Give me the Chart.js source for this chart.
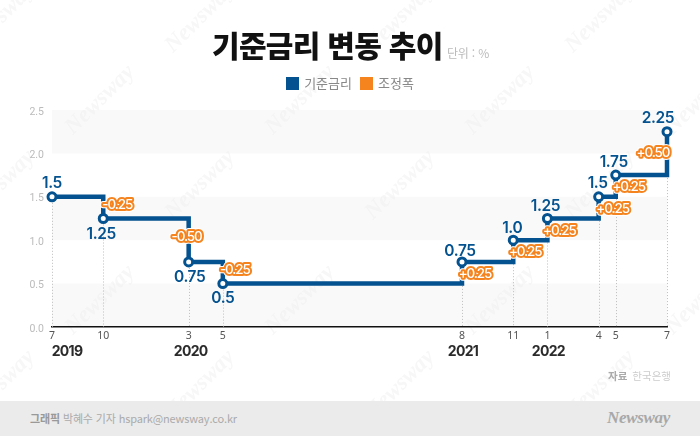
<!DOCTYPE html>
<html lang="ko">
<head>
<meta charset="utf-8">
<title>기준금리 변동 추이</title>
<script src="https://cdn.jsdelivr.net/npm/chart.js@4"></script>
<style>
  html, body { margin: 0; padding: 0; background: #fff; }
  #wrap { position: relative; width: 700px; height: 436px; overflow: hidden; font-family: "Noto Sans CJK KR", sans-serif; }
  #chart { position: absolute; left: 0; top: 0; }
  #title { position: absolute; left: 212px; top: 22px; font-size: 30px; line-height: 44px; font-weight: 900; color: #111; letter-spacing: -0.7px; white-space: nowrap; }
  #unit { position: absolute; left: 447px; top: 44px; font-size: 12px; line-height: 18px; color: #bbb; letter-spacing: -0.2px; white-space: nowrap; }
  #legend { position: absolute; left: 0; width: 700px; top: 74px; display: flex; justify-content: center; font-size: 13px; line-height: 18px; color: #888; }
  #legend span.item { display: flex; align-items: center; margin: 0 4px; }
  #legend i { width: 13px; height: 13px; margin-right: 5px; display: block; }
  #source { position: absolute; right: 29px; top: 368px; font-size: 10.5px; line-height: 16px; color: #ccc; white-space: nowrap; }
  #source b { color: #aaa; margin-right: 5px; }
  #footer { position: absolute; left: 0; top: 401px; width: 700px; height: 35px; background: #ebebeb; }
  #credit { position: absolute; left: 30px; top: 9px; font-size: 11px; line-height: 17px; color: #aaa; letter-spacing: -0.15px; white-space: nowrap; }
  #credit b { color: #999; margin-right: 3px; }
  #logo { position: absolute; right: 30px; top: 5px; font-family: "Liberation Serif", serif; font-style: italic; font-weight: 700; font-size: 17px; line-height: 24px; color: #a8a8a8; letter-spacing: -0.3px; }
</style>
</head>
<body>
<div id="wrap">
  <canvas id="chart" width="700" height="436"></canvas>
  <div id="title">기준금리 변동 추이</div>
  <div id="unit">단위 : %</div>
  <div id="legend"></div>
  <div id="source"><b>자료</b>한국은행</div>
  <div id="footer">
    <div id="credit"><b>그래픽</b>박혜수 기자 hspark@newsway.co.kr</div>
    <div id="logo">Newsway</div>
  </div>
</div>
<script>
// steps on the picture's time axis (the long flat stretch of 2020-21 is shortened there)
const timeSteps = [0, 3, 8, 10, 24, 27, 29, 32, 33, 36];
const monthLabels = ['7', '10', '3', '5', '8', '11', '1', '4', '5', '7'];
const rates = [1.5, 1.25, 0.75, 0.5, 0.75, 1.0, 1.25, 1.5, 1.75, 2.25];
const rateLabels = ['1.5', '1.25', '0.75', '0.5', '0.75', '1.0', '1.25', '1.5', '1.75', '2.25'];
const changes = [-0.25, -0.50, -0.25, 0.25, 0.25, 0.25, 0.25, 0.25, 0.50];
const yearLabels = ['2019', '2020', '2021', '2022'];
const yearSteps = [0, 8, 24, 29];
const bands = [[0, 0.5], [1, 1.5], [2, 2.5]];
const seriesNames = ['기준금리', '조정폭'];

const BLUE = '#04528f';
const ORANGE = '#f5841f';

// label nudges in px, relative to the point they belong to
const rateNudge = [[0, -13], [-2, 16], [1, 15], [0, 15], [-2, -11], [-1, -12], [-2, -12], [-1, -13], [-2, -13], [-9, -13]];
const changeNudge = [[14, -3], [-2, -3], [12, -3], [13, 1], [12, 1], [12, 2], [14, 1], [13, 1], [-14, 0]];
const yearNudge = [15, 2, 1, 1];

document.getElementById('legend').innerHTML = seriesNames.map((name, i) =>
  `<span class="item"><i style="background:${i ? ORANGE : BLUE}"></i>${name}</span>`).join('');

const backdrop = {
  id: 'backdrop',
  beforeDraw(chart) {
    const { ctx } = chart;
    const { x, y } = chart.scales;
    ctx.save();
    // watermark
    ctx.fillStyle = '#f7f7f7';
    ctx.font = 'italic bold 23px "Liberation Serif"';
    ctx.textAlign = 'center';
    ctx.textBaseline = 'middle';
    [[18, 0, 200, 400, 600], [100, 100, 300, 500, 700], [185, 0, 200, 400, 600], [300, 100, 300, 500, 700], [385, 0, 200, 400, 600]].forEach(([cy, ...xs]) => {
      xs.forEach(cx => {
        ctx.save();
        ctx.translate(cx, cy);
        ctx.rotate(-Math.PI / 4);
        ctx.fillText('Newsway', 0, 0);
        ctx.restore();
      });
    });
    // shaded bands
    ctx.fillStyle = 'rgba(240,240,240,0.38)';
    bands.forEach(([lo, hi]) => {
      ctx.fillRect(x.left, y.getPixelForValue(hi), x.width, y.getPixelForValue(lo) - y.getPixelForValue(hi));
    });
    ctx.restore();
  },
  beforeDatasetsDraw(chart) {
    const { ctx } = chart;
    const { x, y } = chart.scales;
    ctx.save();
    ctx.strokeStyle = '#bdbdbd';
    ctx.lineWidth = 1;
    ctx.setLineDash([1, 2]);
    timeSteps.forEach((t, i) => {
      const px = Math.round(x.getPixelForValue(t)) + 0.5;
      ctx.beginPath();
      ctx.moveTo(px, y.getPixelForValue(i === 9 ? rates[8] : rates[i]));
      ctx.lineTo(px, y.bottom);
      ctx.stroke();
    });
    ctx.restore();
  }
};

const annotate = {
  id: 'annotate',
  afterDatasetsDraw(chart) {
    const { ctx } = chart;
    const { x, y } = chart.scales;
    ctx.save();
    ctx.textAlign = 'center';
    ctx.textBaseline = 'middle';
    ctx.lineJoin = 'round';

    // adjustment tags
    ctx.font = '500 13.5px Inter';
    ctx.letterSpacing = '-1.1px';
    changes.forEach((c, i) => {
      const text = (c > 0 ? '+' : '-') + Math.abs(c).toFixed(2);
      const px = x.getPixelForValue(timeSteps[i + 1]) + changeNudge[i][0];
      const py = y.getPixelForValue((rates[i] + rates[i + 1]) / 2) + changeNudge[i][1];
      ctx.strokeStyle = '#fff';
      ctx.lineWidth = 6;
      ctx.strokeText(text, px, py);
      ctx.strokeStyle = ORANGE;
      ctx.lineWidth = 4;
      ctx.strokeText(text, px, py);
      ctx.fillStyle = '#fff';
      ctx.fillText(text, px, py);
    });

    // rate labels
    ctx.font = '600 15.5px Inter';
    ctx.letterSpacing = '-0.4px';
    ctx.fillStyle = BLUE;
    rateLabels.forEach((text, i) => {
      ctx.fillText(text,
        x.getPixelForValue(timeSteps[i]) + rateNudge[i][0],
        y.getPixelForValue(rates[i]) + rateNudge[i][1]);
    });

    // years under the month ticks
    ctx.font = '700 14px Inter';
    ctx.letterSpacing = '-0.7px';
    ctx.fillStyle = '#2b2b2b';
    yearLabels.forEach((text, i) => {
      ctx.fillText(text, x.getPixelForValue(yearSteps[i]) + yearNudge[i], y.bottom + 25);
    });
    ctx.restore();
  }
};

new Chart(document.getElementById('chart'), {
  type: 'line',
  data: {
    datasets: [{
      label: seriesNames[0],
      data: timeSteps.map((t, i) => ({ x: t, y: rates[i] })),
      stepped: true,
      clip: false,
      borderColor: BLUE,
      backgroundColor: BLUE,
      borderWidth: 4.5,
      pointRadius: 4,
      pointBorderWidth: 3,
      pointBorderColor: BLUE,
      pointBackgroundColor: '#fff'
    }, {
      label: seriesNames[1],
      data: changes.map((c, i) => ({ x: timeSteps[i + 1], y: c })),
      showLine: false,
      pointRadius: 0,
      borderColor: ORANGE,
      backgroundColor: ORANGE
    }]
  },
  options: {
    responsive: false,
    animation: false,
    devicePixelRatio: 1,
    layout: { padding: { top: 110, right: 33, bottom: 79, left: 0 } },
    plugins: { legend: { display: false }, tooltip: { enabled: false } },
    scales: {
      x: {
        type: 'linear',
        min: 0,
        max: 36,
        afterBuildTicks(axis) { axis.ticks = timeSteps.map(value => ({ value })); },
        afterFit(axis) { axis.height = 30; },
        grid: { display: false, tickLength: 0 },
        border: { display: true, color: '#111', width: 1.5 },
        ticks: {
          autoSkip: false,
          maxRotation: 0,
          padding: 3,
          color: '#555',
          font: { family: '"Noto Sans"', size: 10.5 },
          callback: (value) => monthLabels[timeSteps.indexOf(value)]
        }
      },
      y: {
        min: 0,
        max: 2.5,
        afterFit(axis) { axis.width = 52; },
        grid: { display: false, tickLength: 0 },
        border: { display: false },
        ticks: {
          stepSize: 0.5,
          padding: 8,
          labelOffset: 2,
          color: '#bbb',
          font: { family: 'Roboto', size: 10.5 },
          callback: (value) => value.toFixed(1)
        }
      }
    }
  },
  plugins: [backdrop, annotate]
});
</script>
</body>
</html>
